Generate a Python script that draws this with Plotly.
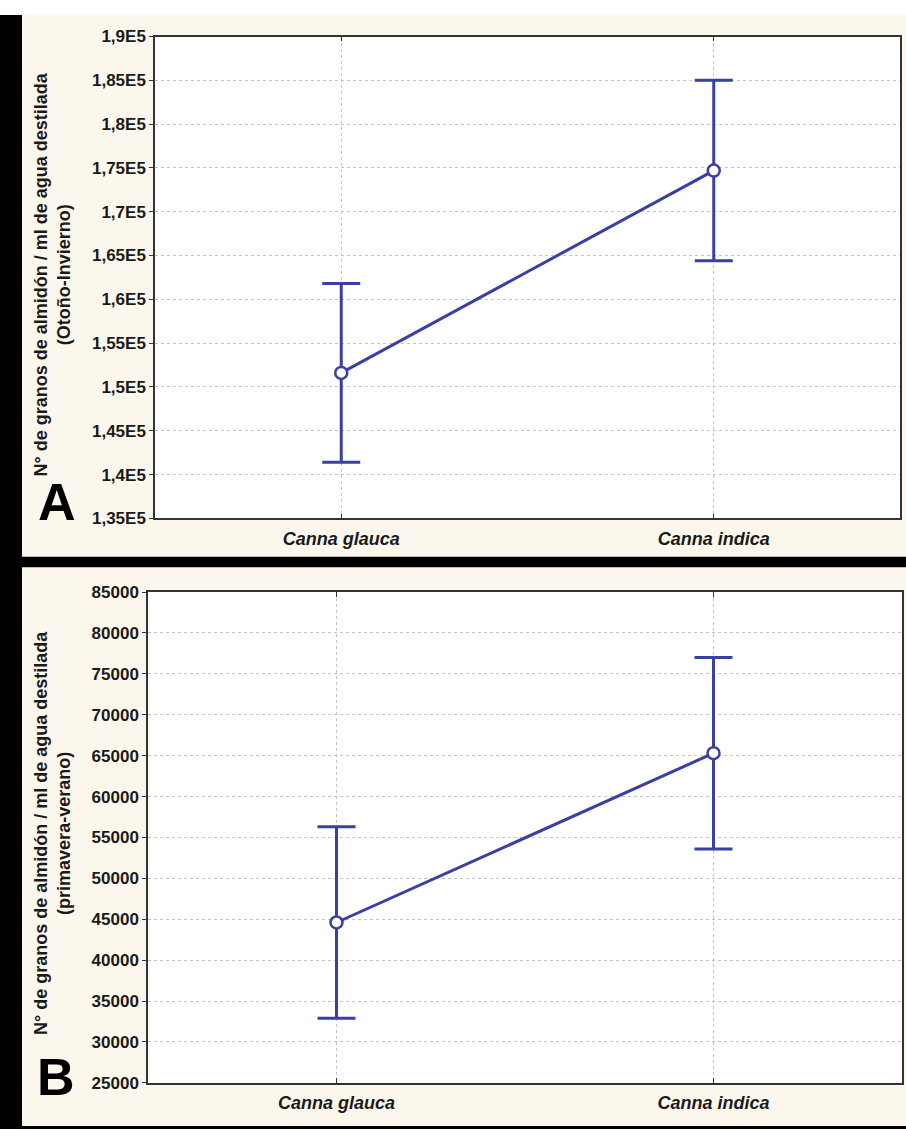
import plotly.graph_objects as go

# ---- data ----
categories = ["Canna glauca", "Canna indica"]
cat_pos = [0, 1]

means_A = [151600, 174700]
errors_A = [10200, 10300]
ticks_A = [135000, 140000, 145000, 150000, 155000, 160000, 165000, 170000, 175000, 180000, 185000, 190000]
ticktext_A = ["1,35E5", "1,4E5", "1,45E5", "1,5E5", "1,55E5", "1,6E5", "1,65E5", "1,7E5", "1,75E5", "1,8E5", "1,85E5", "1,9E5"]

means_B = [44600, 65300]
errors_B = [11700, 11700]
ticks_B = [25000, 30000, 35000, 40000, 45000, 50000, 55000, 60000, 65000, 70000, 75000, 80000, 85000]
ticktext_B = [str(v) for v in ticks_B]

title_A = "N° de granos de almidón / ml de agua destilada<br>(Otoño-Invierno)"
title_B = "N° de granos de almidón / ml de agua destilada<br>(primavera-verano)"

# ---- layout helpers ----
W, H = 906, 1139
def fx(px):
    return px / W
def fy(py):
    return 1 - py / H

BLUE = "#3a3fa3"
CREAM = "#fcf7ec"
FONT = "Liberation Sans"
TXT = "#1a1a1a"
GRID = "#c4c4c4"

fig = go.Figure()

for means, errs, xa, ya in [(means_A, errors_A, "x", "y"), (means_B, errors_B, "x2", "y2")]:
    fig.add_trace(go.Scatter(
        x=cat_pos, y=means, xaxis=xa, yaxis=ya,
        mode="lines+markers",
        line=dict(color=BLUE, width=3),
        marker=dict(symbol="circle", size=12, color="white", line=dict(color=BLUE, width=2.5)),
        error_y=dict(type="data", array=errs, visible=True, color=BLUE, thickness=3, width=19),
        showlegend=False, cliponaxis=False,
    ))

common_x = dict(
    range=[-0.5, 1.5], tickvals=cat_pos, ticktext=categories,
    showgrid=True, gridcolor=GRID, griddash="dot", gridwidth=1,
    showline=True, linecolor="#333333", linewidth=1.5, mirror="ticks",
    ticks="inside", ticklen=5, tickcolor="#333333", zeroline=False,
    tickfont=dict(family=FONT, size=18, color=TXT, weight="bold", style="italic"),
    ticklabelstandoff=3, fixedrange=True,
)
common_y = dict(
    showgrid=True, gridcolor=GRID, griddash="dot", gridwidth=1,
    showline=True, linecolor="#333333", linewidth=1.5, mirror=True,
    ticks="outside", ticklen=4, tickcolor="#333333", zeroline=False,
    tickfont=dict(family=FONT, size=17, color=TXT, weight="bold"),
    fixedrange=True,
)

fig.update_layout(
    width=W, height=H,
    margin=dict(l=0, r=0, t=0, b=0),
    paper_bgcolor="white", plot_bgcolor="white",
    xaxis=dict(domain=[fx(155), fx(900)], anchor="y", **common_x),
    yaxis=dict(domain=[fy(518), fy(28)], anchor="x", range=[135000, 190000],
               tickvals=ticks_A, ticktext=ticktext_A, **common_y),
    xaxis2=dict(domain=[fx(148), fx(902)], anchor="y2", **common_x),
    yaxis2=dict(domain=[fy(1092), fy(593)], anchor="x2", range=[25000, 85000],
                tickvals=ticks_B, ticktext=ticktext_B, **common_y),
)

shapes = [
    dict(type="rect", xref="paper", yref="paper", x0=0, x1=fx(22), y0=0, y1=fy(6),
         fillcolor="black", line=dict(width=0), layer="below"),
    dict(type="rect", xref="paper", yref="paper", x0=fx(22), x1=1, y0=fy(557), y1=fy(6),
         fillcolor=CREAM, line=dict(width=0), layer="below"),
    dict(type="rect", xref="paper", yref="paper", x0=fx(22), x1=1, y0=fy(568), y1=fy(557),
         fillcolor="black", line=dict(width=0), layer="below"),
    dict(type="rect", xref="paper", yref="paper", x0=fx(22), x1=1, y0=fy(1136), y1=fy(568),
         fillcolor=CREAM, line=dict(width=0), layer="below"),
    dict(type="rect", xref="paper", yref="paper", x0=0, x1=1, y0=0, y1=fy(1136),
         fillcolor="black", line=dict(width=0), layer="below"),
    dict(type="rect", xref="x domain", yref="y domain", x0=0, x1=1, y0=0, y1=1,
         fillcolor="white", line=dict(width=0), layer="below"),
    dict(type="rect", xref="x2 domain", yref="y2 domain", x0=0, x1=1, y0=0, y1=1,
         fillcolor="white", line=dict(width=0), layer="below"),
]
fig.update_layout(shapes=shapes)

annotations = [
    dict(text=title_A, x=fx(52), y=fy(270), xref="paper", yref="paper", textangle=-90,
         showarrow=False, xanchor="center", yanchor="middle",
         font=dict(family=FONT, size=18, color=TXT, weight="bold")),
    dict(text=title_B, x=fx(52), y=fy(838), xref="paper", yref="paper", textangle=-90,
         showarrow=False, xanchor="center", yanchor="middle",
         font=dict(family=FONT, size=18, color=TXT, weight="bold")),
    dict(text="A", x=fx(57), y=fy(501), xref="paper", yref="paper", showarrow=False,
         xanchor="center", yanchor="middle",
         font=dict(family=FONT, size=52, color="black", weight="bold")),
    dict(text="B", x=fx(56), y=fy(1086), xref="paper", yref="paper", showarrow=False,
         xanchor="center", yanchor="middle",
         font=dict(family=FONT, size=52, color="black", weight="bold")),
]
fig.update_layout(annotations=annotations)

fig.write_html("out.html", config={"displayModeBar": False},
               post_script="document.body.style.margin='0px';document.body.style.overflow='hidden';")
